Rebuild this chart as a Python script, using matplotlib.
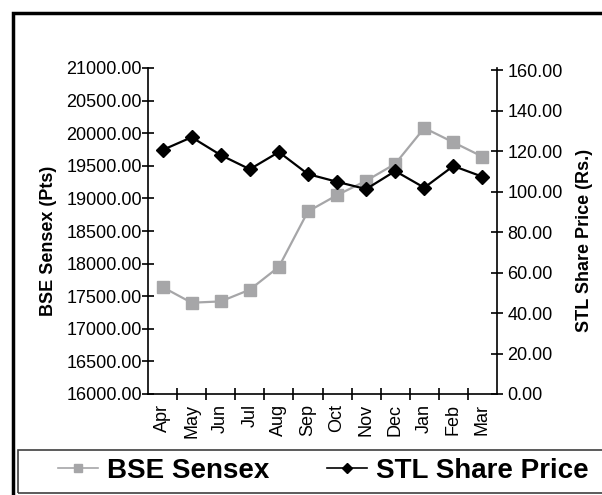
import matplotlib
matplotlib.use('Agg')
import matplotlib.pyplot as plt
from matplotlib.patches import Rectangle
from matplotlib.lines import Line2D

# data
months = ['Apr', 'May', 'Jun', 'Jul', 'Aug', 'Sep', 'Oct', 'Nov', 'Dec', 'Jan', 'Feb', 'Mar']
bse_sensex = [17640, 17400, 17420, 17600, 17950, 18800, 19050, 19270, 19530, 20080, 19860, 19640]
stl_price = [120.5, 126.8, 118.0, 111.0, 119.5, 108.6, 104.8, 101.2, 110.1, 101.9, 112.6, 107.3]

left_ticks = [16000, 16500, 17000, 17500, 18000, 18500, 19000, 19500, 20000, 20500, 21000]
right_ticks = [0, 20, 40, 60, 80, 100, 120, 140, 160]

GRAY = '#a6a6a8'
plt.rcParams['font.family'] = ['Liberation Sans', 'DejaVu Sans']

fig = plt.figure(figsize=(6.02, 4.95), dpi=100)
ax = fig.add_axes([148 / 602, 1 - 394 / 495, 349 / 602, 326 / 495])
ax2 = ax.twinx()

x = list(range(len(months)))
ax.plot(x, bse_sensex, color=GRAY, linewidth=1.6, marker='s', markersize=8.5,
        markeredgecolor=GRAY, markerfacecolor=GRAY, zorder=3)
ax2.plot(x, stl_price, color='black', linewidth=1.6, marker='D', markersize=7,
         markeredgecolor='black', markerfacecolor='black', zorder=3)

ax.set_xlim(-0.5, len(months) - 0.5)
ax.set_ylim(16000, 21000)
ax2.set_ylim(0, 161)

ax.set_yticks(left_ticks)
ax.set_yticklabels([f'{v:.2f}' for v in left_ticks])
ax2.set_yticks(right_ticks)
ax2.set_yticklabels([f'{v:.2f}' for v in right_ticks])

# category labels centered, tick marks on the boundaries
ax.set_xticks(x)
ax.set_xticklabels(months, rotation=90)
ax.tick_params(axis='x', which='major', length=0, pad=7)
ax.set_xticks([i + 0.5 for i in range(len(months) - 1)], minor=True)
ax.tick_params(axis='x', which='minor', direction='inout', length=9, width=1.2)

ax.tick_params(axis='y', direction='inout', length=9, width=1.2, labelsize=13, pad=0)
ax.tick_params(axis='x', labelsize=13)
ax2.tick_params(axis='y', direction='inout', length=9, width=1.2, labelsize=13, pad=3)

for a in (ax, ax2):
    a.spines['top'].set_visible(False)
    for s in a.spines.values():
        s.set_linewidth(1.2)
ax.spines['right'].set_visible(False)
ax2.spines['left'].set_visible(False)
ax2.spines['bottom'].set_visible(False)

ax.set_ylabel('BSE Sensex (Pts)', fontsize=13, fontweight='bold')
ax.yaxis.set_label_coords(-0.26, 0.47)
ax2.set_ylabel('STL Share Price (Rs.)', fontsize=13, fontweight='bold', rotation=90)
ax2.yaxis.set_label_coords(1.226, 0.47)

# outer chart frame (runs past the right and bottom edges)
fig.patches.append(Rectangle((13 / 602, -0.5), 1.5, 1.5 - 13 / 495,
                             transform=fig.transFigure, fill=False,
                             edgecolor='black', linewidth=2.5))
# legend box
fig.patches.append(Rectangle((18 / 602, 1 - 493 / 495), 1.2, 43 / 495,
                             transform=fig.transFigure, fill=False,
                             edgecolor='#404040', linewidth=1.2))

handles = [
    Line2D([], [], color=GRAY, linewidth=1.2, marker='s', markersize=6,
           markeredgecolor=GRAY, markerfacecolor=GRAY),
    Line2D([], [], color='black', linewidth=1.2, marker='D', markersize=5),
]
fig.legend(handles, ['BSE Sensex', 'STL Share Price'], ncol=2, frameon=False,
           loc='center left', bbox_to_anchor=(58 / 602, 1 - 471 / 495),
           prop={'family': 'Liberation Sans', 'weight': 'bold', 'size': 20},
           handlelength=1.45, handletextpad=0.3, columnspacing=2.1,
           borderpad=0, borderaxespad=0)

fig.savefig('out.png', dpi=100)
